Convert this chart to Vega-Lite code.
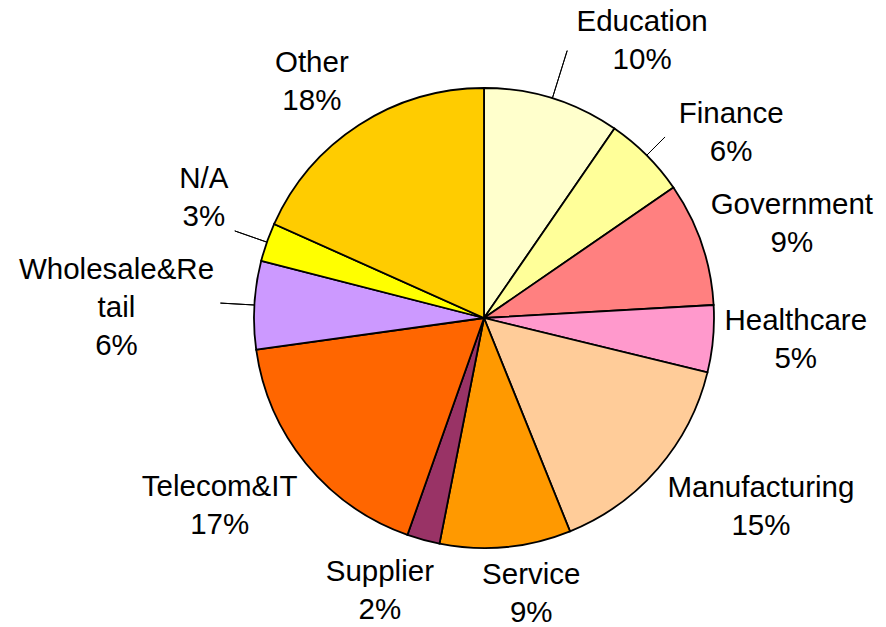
{
  "$schema": "https://vega.github.io/schema/vega-lite/v6.json",
  "width": 804,
  "height": 618,
  "autosize": {"type": "none"},
  "padding": {"left": 82, "top": 9, "right": 0, "bottom": 0},
  "background": "white",
  "config": {"view": {"stroke": null}, "text": {"fontSize": 29.5, "font": "Liberation Sans", "lineBreak": "\n", "lineHeight": 38, "align": "center", "baseline": "middle", "color": "black", "radius": 300}},
  "data": {
    "values": [
      {"category": "Education", "value": 9.6, "idx": 1, "label": "Education\n10%"},
      {"category": "Finance", "value": 5.8, "idx": 2, "label": "Finance\n6%"},
      {"category": "Government", "value": 8.7, "idx": 3, "label": "Government\n9%"},
      {"category": "Healthcare", "value": 4.7, "idx": 4, "label": "Healthcare\n5%"},
      {"category": "Manufacturing", "value": 15.1, "idx": 5, "label": "Manufacturing\n15%"},
      {"category": "Service", "value": 9.2, "idx": 6, "label": "Service\n9%"},
      {"category": "Supplier", "value": 2.3, "idx": 7, "label": "Supplier\n2%"},
      {"category": "Telecom&IT", "value": 17.4, "idx": 8, "label": "Telecom&IT\n17%"},
      {"category": "Wholesale&Retail", "value": 6.2, "idx": 9, "label": "Wholesale&Re\ntail\n6%"},
      {"category": "N/A", "value": 2.7, "idx": 10, "label": "N/A\n3%"},
      {"category": "Other", "value": 18.3, "idx": 11, "label": "Other\n18%"}
    ]
  },
  "transform": [
    {"stack": "value", "groupby": [], "sort": [{"field": "idx", "order": "ascending"}], "as": ["v0", "v1"]},
    {"calculate": "(datum.v0 + datum.v1) / 2", "as": "mid"}
  ],
  "layer": [
    {
      "mark": {"type": "arc", "outerRadius": 230, "stroke": "black", "strokeWidth": 1.8},
      "encoding": {
        "theta": {"field": "v0", "type": "quantitative", "scale": {"domain": [0, 100]}},
        "theta2": {"field": "v1"},
        "color": {
          "field": "category",
          "type": "nominal",
          "legend": null,
          "scale": {
            "domain": ["Education", "Finance", "Government", "Healthcare", "Manufacturing", "Service", "Supplier", "Telecom&IT", "Wholesale&Retail", "N/A", "Other"],
            "range": ["#FFFFCC", "#FFFF99", "#FF8080", "#FF99CC", "#FFCC99", "#FF9900", "#993366", "#FF6600", "#CC99FF", "#FFFF00", "#FFCC00"]
          }
        }
      }
    },
    {
      "transform": [{"filter": "datum.category === 'Education'"}],
      "mark": {"type": "arc", "innerRadius": 230, "outerRadius": 280, "padAngle": 1.2, "stroke": "black", "strokeWidth": 1, "fill": null},
      "encoding": {"theta": {"field": "v0", "type": "quantitative", "scale": {"domain": [0, 100]}}, "theta2": {"field": "v1"}}
    },
    {
      "transform": [{"filter": "datum.category === 'Finance'"}],
      "mark": {"type": "arc", "innerRadius": 230, "outerRadius": 256, "padAngle": 1.2, "stroke": "black", "strokeWidth": 1, "fill": null},
      "encoding": {"theta": {"field": "v0", "type": "quantitative", "scale": {"domain": [0, 100]}}, "theta2": {"field": "v1"}}
    },
    {
      "transform": [{"filter": "datum.category === 'N/A' || datum.category === 'Wholesale&Retail'"}],
      "mark": {"type": "arc", "innerRadius": 230, "outerRadius": 264, "padAngle": 1.2, "stroke": "black", "strokeWidth": 1, "fill": null},
      "encoding": {"theta": {"field": "v0", "type": "quantitative", "scale": {"domain": [0, 100]}}, "theta2": {"field": "v1"}}
    },
    {"transform": [{"filter": "datum.category === 'Education'"}], "mark": {"type": "text", "dx": 69, "dy": -10}, "encoding": {"theta": {"field": "mid", "type": "quantitative", "stack": false}, "text": {"field": "label"}}},
    {"transform": [{"filter": "datum.category === 'Finance'"}], "mark": {"type": "text", "dx": 35, "dy": 8}, "encoding": {"theta": {"field": "mid", "type": "quantitative", "stack": false}, "text": {"field": "label"}}},
    {"transform": [{"filter": "datum.category === 'Government'"}], "mark": {"type": "text", "dx": 24, "dy": -16}, "encoding": {"theta": {"field": "mid", "type": "quantitative", "stack": false}, "text": {"field": "label"}}},
    {"transform": [{"filter": "datum.category === 'Healthcare'"}], "mark": {"type": "text", "dx": 13, "dy": -24}, "encoding": {"theta": {"field": "mid", "type": "quantitative", "stack": false}, "text": {"field": "label"}}},
    {"transform": [{"filter": "datum.category === 'Manufacturing'"}], "mark": {"type": "text", "dx": 50, "dy": -26}, "encoding": {"theta": {"field": "mid", "type": "quantitative", "stack": false}, "text": {"field": "label"}}},
    {"transform": [{"filter": "datum.category === 'Service'"}], "mark": {"type": "text", "dx": 19, "dy": -42}, "encoding": {"theta": {"field": "mid", "type": "quantitative", "stack": false}, "text": {"field": "label"}}},
    {"transform": [{"filter": "datum.category === 'Supplier'"}], "mark": {"type": "text", "dx": -25, "dy": -35}, "encoding": {"theta": {"field": "mid", "type": "quantitative", "stack": false}, "text": {"field": "label"}}},
    {"transform": [{"filter": "datum.category === 'Telecom&IT'"}], "mark": {"type": "text", "dx": -32, "dy": -21}, "encoding": {"theta": {"field": "mid", "type": "quantitative", "stack": false}, "text": {"field": "label"}}},
    {"transform": [{"filter": "datum.category === 'Wholesale&Retail'"}], "mark": {"type": "text", "dx": -68, "dy": -31}, "encoding": {"theta": {"field": "mid", "type": "quantitative", "stack": false}, "text": {"field": "label"}}},
    {"transform": [{"filter": "datum.category === 'N/A'"}], "mark": {"type": "text", "dx": 3, "dy": -40}, "encoding": {"theta": {"field": "mid", "type": "quantitative", "stack": false}, "text": {"field": "label"}}},
    {"transform": [{"filter": "datum.category === 'Other'"}], "mark": {"type": "text", "dx": -9, "dy": -3}, "encoding": {"theta": {"field": "mid", "type": "quantitative", "stack": false}, "text": {"field": "label"}}}
  ]
}
